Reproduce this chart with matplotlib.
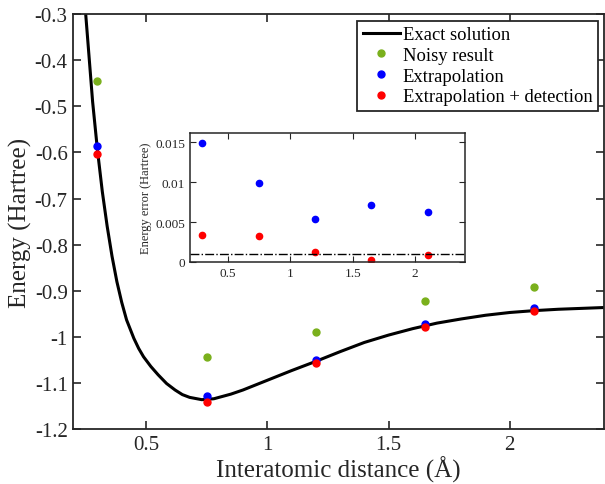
import numpy as np
import matplotlib
matplotlib.use("Agg")
import matplotlib.pyplot as plt

plt.rcParams.update({
    "font.family": "serif",
    "font.serif": ["Liberation Serif"],
    "mathtext.fontset": "stix",
})

# exact dissociation curve
r_exact = [0.25, 0.265, 0.28, 0.30, 0.32, 0.34, 0.36, 0.38, 0.40, 0.42, 0.45, 0.47,
           0.49, 0.52, 0.55, 0.585, 0.62, 0.65, 0.68, 0.73, 0.78, 0.85, 0.90, 1.00,
           1.10, 1.20, 1.30, 1.40, 1.50, 1.60, 1.70, 1.80, 1.90, 2.00, 2.10, 2.20,
           2.30, 2.40]
e_exact = [-0.29, -0.39, -0.49, -0.595, -0.685, -0.76, -0.825, -0.88, -0.925, -0.963,
           -1.003, -1.025, -1.043, -1.064, -1.082, -1.101, -1.115, -1.125, -1.131,
           -1.136, -1.134, -1.124, -1.115, -1.094, -1.073, -1.053, -1.032, -1.012,
           -0.996, -0.982, -0.970, -0.961, -0.953, -0.947, -0.943, -0.940, -0.938,
           -0.936]

r_pts = [0.3, 0.75, 1.2, 1.65, 2.1]
e_noisy = [-0.445, -1.044, -0.990, -0.923, -0.892]
e_extrap = [-0.587, -1.129, -1.051, -0.972, -0.938]
e_detect = [-0.604, -1.141, -1.057, -0.978, -0.944]

err_extrap = [0.0149, 0.0099, 0.0054, 0.0071, 0.0062]
err_detect = [0.0034, 0.0033, 0.0013, 0.0002, 0.0009]
err_threshold = 0.001

green = "#7AB01C"
ms = 5

fig = plt.figure(figsize=(6.05, 4.85), dpi=100)
ax = fig.add_axes([0.121, 0.113, 0.878, 0.856])

ax.plot(r_exact, e_exact, color="black", lw=2.2, label="Exact solution")
ax.plot(r_pts, e_noisy, "o", color=green, ms=ms, ls="none", label="Noisy result")
ax.plot(r_pts, e_extrap, "o", color="#0000FF", ms=ms, ls="none", label="Extrapolation")
ax.plot(r_pts, e_detect, "o", color="#FF0000", ms=ms, ls="none", label="Extrapolation + detection")

ax.set_xlim(0.2, 2.39)
ax.set_ylim(-1.2, -0.3)
ax.set_xticks([0.5, 1, 1.5, 2])
ax.set_xticklabels(["0.5", "1", "1.5", "2"])
ax.set_yticks(np.arange(-1.2, -0.25, 0.1))
ax.set_yticklabels(["-1.2", "-1.1", "-1", "-0.9", "-0.8", "-0.7", "-0.6", "-0.5", "-0.4", "-0.3"])
ax.tick_params(direction="in", top=True, right=True, labelsize=15, length=6,
               width=1.2, colors="#262626", labelcolor="#262626", pad=4)
for s in ax.spines.values():
    s.set_linewidth(1.3)
    s.set_color("#262626")
ax.set_xlabel("Interatomic distance (Å)", fontsize=18, color="#262626", labelpad=1)
ax.set_ylabel("Energy (Hartree)", fontsize=18, color="#262626", labelpad=2)

leg = ax.legend(loc="upper right", fontsize=13.4, frameon=True, fancybox=False,
                borderaxespad=0.35, handlelength=2.0, handletextpad=0.15,
                labelspacing=0.2, borderpad=0.3)
leg.get_frame().set_edgecolor("#262626")
leg.get_frame().set_linewidth(1.3)
leg.get_frame().set_alpha(1)

# inset
ins = fig.add_axes([0.314, 0.458, 0.455, 0.266])
ins.plot(r_pts, err_extrap, "o", color="#0000FF", ms=4.5, ls="none")
ins.plot(r_pts, err_detect, "o", color="#FF0000", ms=4.5, ls="none")
ins.axhline(err_threshold, color="black", ls="-.", lw=1)
ins.set_xlim(0.2, 2.4)
ins.set_ylim(0, 0.0162)
ins.set_xticks([0.5, 1, 1.5, 2])
ins.set_xticklabels(["0.5", "1", "1.5", "2"])
ins.set_yticks([0, 0.005, 0.01, 0.015])
ins.set_yticklabels(["0", "0.005", "0.01", "0.015"])
ins.tick_params(direction="in", top=True, right=True, labelsize=9.5, length=4,
                colors="#262626", labelcolor="#262626")
for s in ins.spines.values():
    s.set_linewidth(1.1)
    s.set_color("#262626")
ins.set_ylabel("Energy error (Hartree)", fontsize=9, color="#262626", labelpad=2)

fig.savefig("out.png", dpi=100)
